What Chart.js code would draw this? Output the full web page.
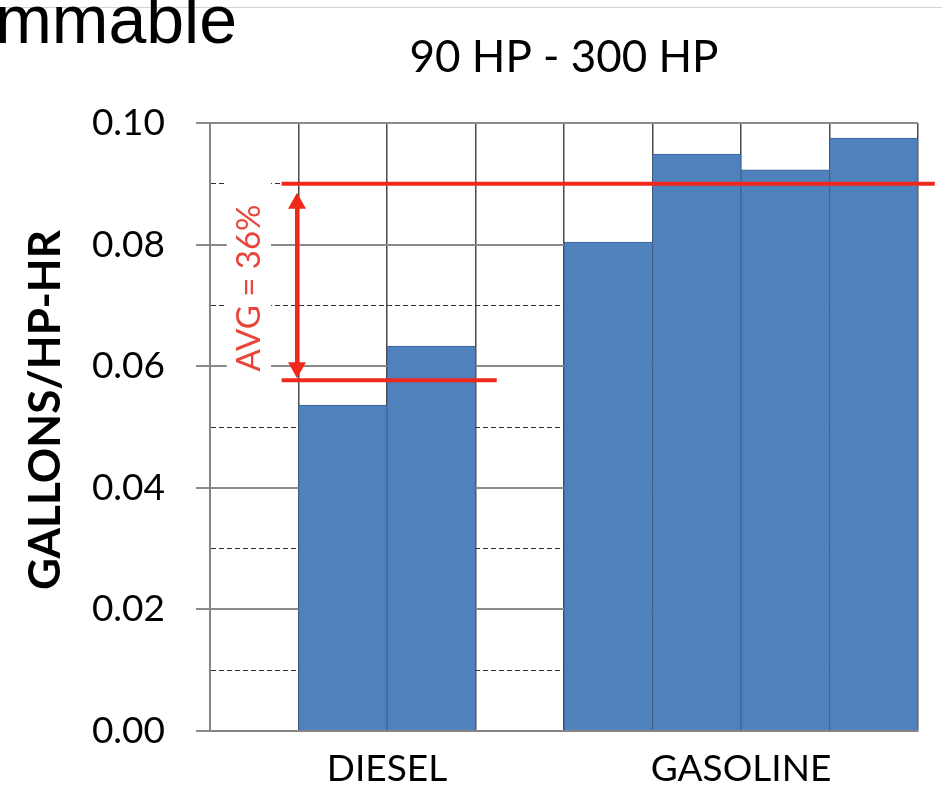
<!DOCTYPE html>
<html><head><meta charset="utf-8">
<script src="https://cdn.jsdelivr.net/npm/chart.js@4"></script>
<style>html,body{margin:0;padding:0;background:#fff}#wrap{width:942px;height:788px;position:relative}</style>
</head><body><div id="wrap"><canvas id="c"></canvas></div>
<script>
// ---- data ----
const slots = ['', 'DIESEL', '', '', '', 'GASOLINE', '', ''];
const slotValues = [null, 0.0536, 0.0633, null, 0.0804, 0.0949, 0.0923, 0.0975];
const yMin = 0, yMax = 0.10, yStep = 0.01;
const avgLevels = [0.0577, 0.0900];   // diesel average, gasoline average
const avgLabel = 'AVG = 36%';
const chartTitle = '90 HP - 300 HP';
const yTitle = 'GALLONS/HP-HR';
const cornerText = 'mmable';

// ---- styles ----
const CAL = 'Lato, "Open Sans", sans-serif';
const RED = '#f0281c';
const isMajor = v => Math.round(v * 100) % 2 === 0;

const annot = {
  id: 'annot',
  beforeDraw(chart) {
    const ctx = chart.ctx;
    ctx.save();
    ctx.fillStyle = '#fff';
    ctx.fillRect(0, 0, chart.width, chart.height);
    ctx.strokeStyle = '#d4d4d4'; ctx.lineWidth = 1;
    ctx.beginPath(); ctx.moveTo(0, 7.5); ctx.lineTo(chart.width, 7.5); ctx.stroke();
    ctx.fillStyle = '#000';
    ctx.font = '68px "Liberation Sans", Arial, sans-serif';
    ctx.textAlign = 'right'; ctx.textBaseline = 'alphabetic';
    ctx.fillText(cornerText, 237, 43);
    ctx.restore();
  },
  afterDatasetsDraw(chart) {
    const ctx = chart.ctx, x = chart.scales.x, y = chart.scales.y;
    const yLo = y.getPixelForValue(avgLevels[0]);
    const yHi = y.getPixelForValue(avgLevels[1]);
    ctx.save();
    // white box behind label
    const bx0 = x.getPixelForValue(-0.31), bx1 = x.getPixelForValue(0.19);
    ctx.fillStyle = '#fff';
    ctx.fillRect(bx0, yHi - 4, bx1 - bx0, (yLo - 5) - (yHi - 4));
    // label
    ctx.translate((bx0 + bx1) / 2, (yHi + yLo) / 2 + 6);
    ctx.rotate(-Math.PI / 2);
    ctx.fillStyle = '#e8463a';
    ctx.font = '33px ' + CAL;
    ctx.textAlign = 'center'; ctx.textBaseline = 'middle';
    ctx.fillText(avgLabel, 0, 0);
    ctx.restore();

    ctx.save();
    ctx.strokeStyle = RED; ctx.fillStyle = RED; ctx.lineWidth = 4;
    const ln = (x0, y0, x1, y1) => { ctx.beginPath(); ctx.moveTo(x0, y0); ctx.lineTo(x1, y1); ctx.stroke(); };
    ln(x.getPixelForValue(0.31), yHi, x.getPixelForValue(7.69), yHi);
    ln(x.getPixelForValue(0.31), yLo, x.getPixelForValue(2.74), yLo);
    // double arrow
    const ax = x.getPixelForValue(0.483);
    const tTop = yHi + 9, tBot = yLo - 2, hh = 16, hw = 9;
    ln(ax, tTop + hh - 2, ax, tBot - hh + 2);
    ctx.beginPath(); ctx.moveTo(ax, tTop); ctx.lineTo(ax - hw, tTop + hh); ctx.lineTo(ax + hw, tTop + hh); ctx.closePath(); ctx.fill();
    ctx.beginPath(); ctx.moveTo(ax, tBot); ctx.lineTo(ax - hw, tBot - hh); ctx.lineTo(ax + hw, tBot - hh); ctx.closePath(); ctx.fill();
    ctx.restore();
  },
  afterDraw(chart) {
    const ctx = chart.ctx, a = chart.chartArea;
    ctx.save();
    ctx.translate(46, (a.top + a.bottom) / 2 - 17);
    ctx.rotate(-Math.PI / 2);
    ctx.fillStyle = '#000';
    ctx.font = 'bold 44px ' + CAL;
    ctx.textAlign = 'center'; ctx.textBaseline = 'middle';
    ctx.fillText(yTitle, 0, 0);
    ctx.restore();
  }
};

new Chart(document.getElementById('c'), {
  type: 'bar',
  data: {
    labels: slots,
    datasets: [{
      data: slotValues,
      backgroundColor: '#4f81bd',
      borderColor: '#3d6596',
      borderWidth: 1,
      barPercentage: 1,
      categoryPercentage: 1
    }]
  },
  options: {
    responsive: true,
    maintainAspectRatio: false,
    animation: false,
    layout: { padding: { left: 0, right: 24, top: 0, bottom: 0 } },
    plugins: {
      legend: { display: false },
      tooltip: { enabled: false },
      title: {
        display: true, text: chartTitle, fullSize: false,
        color: '#000', font: { family: CAL, size: 44, weight: 'normal', lineHeight: 1.2 },
        padding: { top: 31, bottom: 39.2 }
      }
    },
    scales: {
      x: {
        type: 'category',
        offset: true,
        grid: { display: true, offset: true, color: '#4a4a4a', lineWidth: 1.5, drawTicks: false },
        border: { display: true, color: '#858585', width: 2 },
        ticks: {
          autoSkip: false, maxRotation: 0, minRotation: 0, labelOffset: 44.25, padding: 16,
          color: '#000', font: { family: CAL, size: 37 }
        },
        afterFit(s) { s.height = 57; }
      },
      y: {
        min: yMin, max: yMax,
        ticks: {
          stepSize: yStep, autoSkip: false, padding: 31, color: '#000',
          font: { family: CAL, size: 37 },
          callback: v => isMajor(v) ? Number(v).toFixed(2) : ''
        },
        grid: {
          color: c => (c.tick && isMajor(c.tick.value)) ? '#8a8a8a' : '#333',
          lineWidth: c => (c.tick && isMajor(c.tick.value)) ? 2 : 1,
          tickLength: 14,
          tickColor: c => (c.tick && isMajor(c.tick.value)) ? '#8a8a8a' : 'rgba(0,0,0,0)',
          tickWidth: 2
        },
        border: {
          display: true, color: '#858585', width: 2,
          dash: c => (c.tick && !isMajor(c.tick.value)) ? [5, 3] : []
        },
        afterFit(s) { s.width = 210; }
      }
    }
  },
  plugins: [annot]
});
</script>
</body></html>
